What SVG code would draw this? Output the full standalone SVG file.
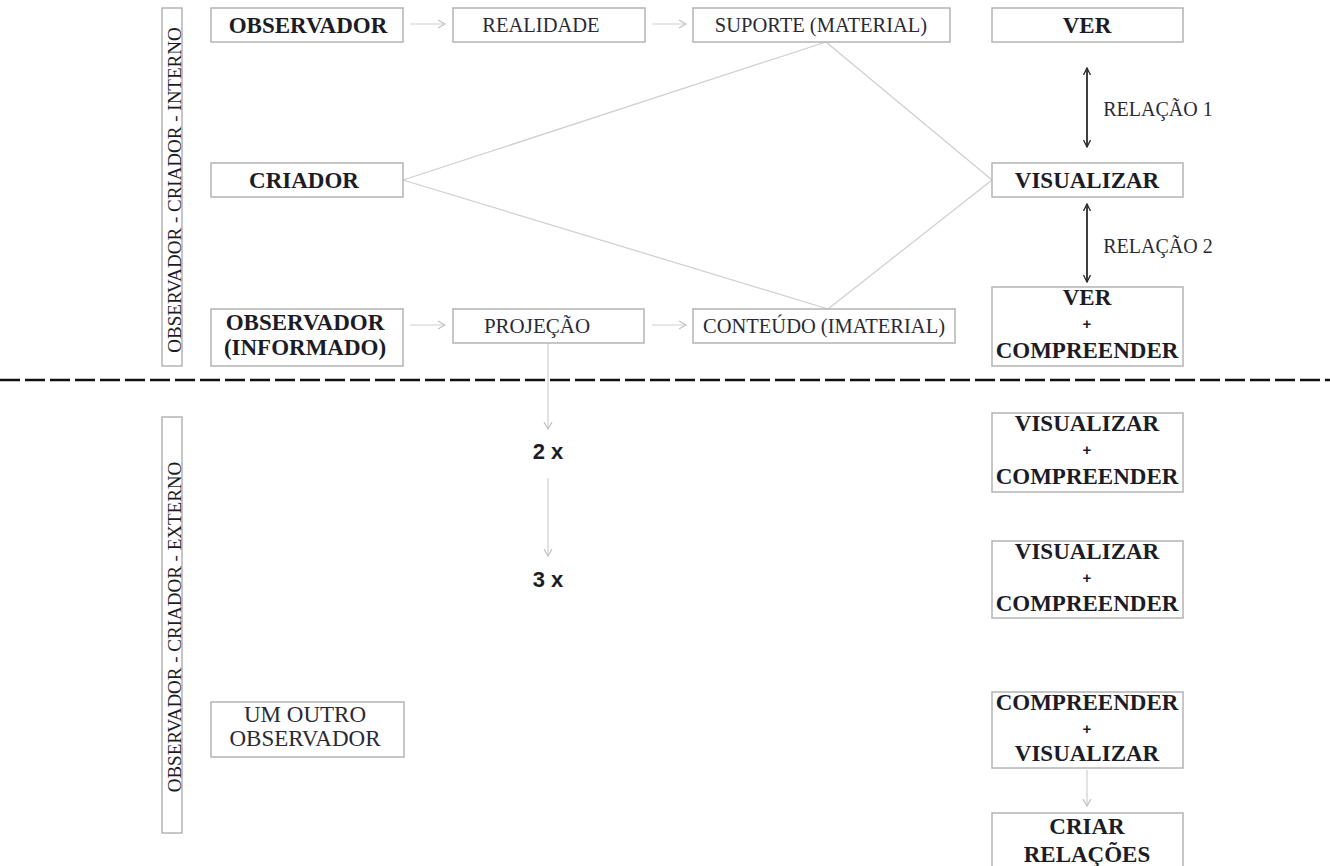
<svg xmlns="http://www.w3.org/2000/svg" width="1330" height="866" viewBox="0 0 1330 866">
<style>
.box{fill:#fff;stroke:#b4b4b4;stroke-width:1.5}
.b{font-family:"Liberation Serif",serif;font-weight:bold;font-size:23px;fill:#1c1c26;text-anchor:middle}
.r{font-family:"Liberation Serif",serif;font-size:20.5px;fill:#2a2a36;text-anchor:middle}
.u{font-family:"Liberation Serif",serif;font-size:23px;fill:#2a2a36;text-anchor:middle}
.v{font-family:"Liberation Serif",serif;font-size:19px;fill:#1c1c26;text-anchor:middle}
.s{font-family:"Liberation Sans",sans-serif;font-weight:bold;font-size:22px;fill:#1c1c26;text-anchor:middle}
.p{font-family:"Liberation Sans",sans-serif;font-weight:bold;font-size:15px;fill:#1c1c26;text-anchor:middle}
.g{stroke:#cfcfcf;stroke-width:1.2;fill:none}
.k{stroke:#2a2a2a;stroke-width:1.8;fill:none}
</style>
<defs>
<marker id="ga" markerWidth="10" markerHeight="10" refX="9" refY="5" orient="auto" markerUnits="userSpaceOnUse">
<path d="M2,1 L9,5 L2,9" fill="none" stroke="#c0c0c0" stroke-width="1.2"/>
</marker>
<marker id="ka" markerWidth="8" markerHeight="10" refX="7" refY="4" orient="auto-start-reverse" markerUnits="userSpaceOnUse">
<path d="M0,0.5 L7,4 L0,7.5" fill="none" stroke="#2a2a2a" stroke-width="1.3"/>
</marker>
</defs>

<g id="connectors">
<line class="g" x1="410" y1="24" x2="445" y2="24" marker-end="url(#ga)"/>
<line class="g" x1="652" y1="24" x2="686" y2="24" marker-end="url(#ga)"/>
<line class="g" x1="410" y1="325" x2="445" y2="325" marker-end="url(#ga)"/>
<line class="g" x1="652" y1="325" x2="686" y2="325" marker-end="url(#ga)"/>
<line class="g" x1="403" y1="180" x2="826" y2="42"/>
<line class="g" x1="403" y1="180" x2="828" y2="309"/>
<line class="g" x1="826" y1="42" x2="992" y2="180"/>
<line class="g" x1="828" y1="309" x2="992" y2="180"/>
<line class="g" x1="548" y1="343" x2="548" y2="429" marker-end="url(#ga)"/>
<line class="g" x1="548" y1="478" x2="548" y2="556" marker-end="url(#ga)"/>
<line class="g" x1="1087" y1="770" x2="1087" y2="806" marker-end="url(#ga)"/>
<line class="k" x1="1087" y1="68" x2="1087" y2="147" marker-start="url(#ka)" marker-end="url(#ka)"/>
<line class="k" x1="1087" y1="204" x2="1087" y2="282" marker-start="url(#ka)" marker-end="url(#ka)"/>
<line x1="0" y1="380" x2="1330" y2="380" stroke="#111" stroke-width="2.4" stroke-dasharray="20,5"/>
</g>

<g id="lbl-rel1"><text class="r" x="1158" y="116" style="font-size:20px">RELAÇÃO 1</text></g>
<g id="lbl-rel2"><text class="r" x="1158" y="253" style="font-size:20px">RELAÇÃO 2</text></g>
<g id="lbl-2x"><text class="s" x="548" y="459">2 x</text></g>
<g id="lbl-3x"><text class="s" x="548" y="587">3 x</text></g>

<g id="side-interno">
<rect class="box" x="162" y="8" width="20" height="358"/>
<text class="v" transform="translate(180.5,190) rotate(-90)">OBSERVADOR - CRIADOR - INTERNO</text>
</g>
<g id="side-externo">
<rect class="box" x="162" y="417" width="20" height="416"/>
<text class="v" transform="translate(180.5,627) rotate(-90)">OBSERVADOR - CRIADOR - EXTERNO</text>
</g>

<g id="observador">
<rect class="box" x="211" y="8" width="192" height="34"/>
<text class="b" x="308" y="33">OBSERVADOR</text>
</g>
<g id="realidade">
<rect class="box" x="453" y="8" width="192" height="34"/>
<text class="r" x="541" y="32">REALIDADE</text>
</g>
<g id="suporte">
<rect class="box" x="693" y="8" width="257" height="34"/>
<text class="r" x="821" y="32">SUPORTE (MATERIAL)</text>
</g>
<g id="ver">
<rect class="box" x="992" y="8" width="191" height="34"/>
<text class="b" x="1087" y="33">VER</text>
</g>
<g id="criador">
<rect class="box" x="211" y="163" width="192" height="34"/>
<text class="b" x="304" y="188">CRIADOR</text>
</g>
<g id="visualizar">
<rect class="box" x="992" y="163" width="191" height="34"/>
<text class="b" x="1087" y="188">VISUALIZAR</text>
</g>
<g id="observador-informado">
<rect class="box" x="211" y="309" width="192" height="57"/>
<text class="b" x="305" y="330">OBSERVADOR</text>
<text class="b" x="305" y="355">(INFORMADO)</text>
</g>
<g id="projecao">
<rect class="box" x="453" y="309" width="191" height="34"/>
<text class="r" x="537" y="333" style="font-size:21px">PROJEÇÃO</text>
</g>
<g id="conteudo">
<rect class="box" x="693" y="309" width="262" height="34"/>
<text class="r" x="824" y="333">CONTEÚDO (IMATERIAL)</text>
</g>
<g id="ver-compreender">
<rect class="box" x="992" y="287" width="191" height="79"/>
<text class="b" x="1087" y="305">VER</text>
<text class="p" x="1087" y="329">+</text>
<text class="b" x="1087" y="358">COMPREENDER</text>
</g>
<g id="vis-comp-1">
<rect class="box" x="992" y="413" width="191" height="79"/>
<text class="b" x="1087" y="431">VISUALIZAR</text>
<text class="p" x="1087" y="455">+</text>
<text class="b" x="1087" y="484">COMPREENDER</text>
</g>
<g id="vis-comp-2">
<rect class="box" x="992" y="541" width="191" height="77"/>
<text class="b" x="1087" y="559">VISUALIZAR</text>
<text class="p" x="1087" y="583">+</text>
<text class="b" x="1087" y="611">COMPREENDER</text>
</g>
<g id="comp-vis">
<rect class="box" x="992" y="692" width="191" height="76"/>
<text class="b" x="1087" y="710">COMPREENDER</text>
<text class="p" x="1087" y="734">+</text>
<text class="b" x="1087" y="761">VISUALIZAR</text>
</g>
<g id="criar-relacoes">
<rect class="box" x="992" y="813" width="191" height="60"/>
<text class="b" x="1087" y="834">CRIAR</text>
<text class="b" x="1087" y="862">RELAÇÕES</text>
</g>
<g id="um-outro-observador">
<rect class="box" x="211" y="702" width="193" height="55"/>
<text class="u" x="305" y="722">UM OUTRO</text>
<text class="u" x="305" y="746">OBSERVADOR</text>
</g>
</svg>
